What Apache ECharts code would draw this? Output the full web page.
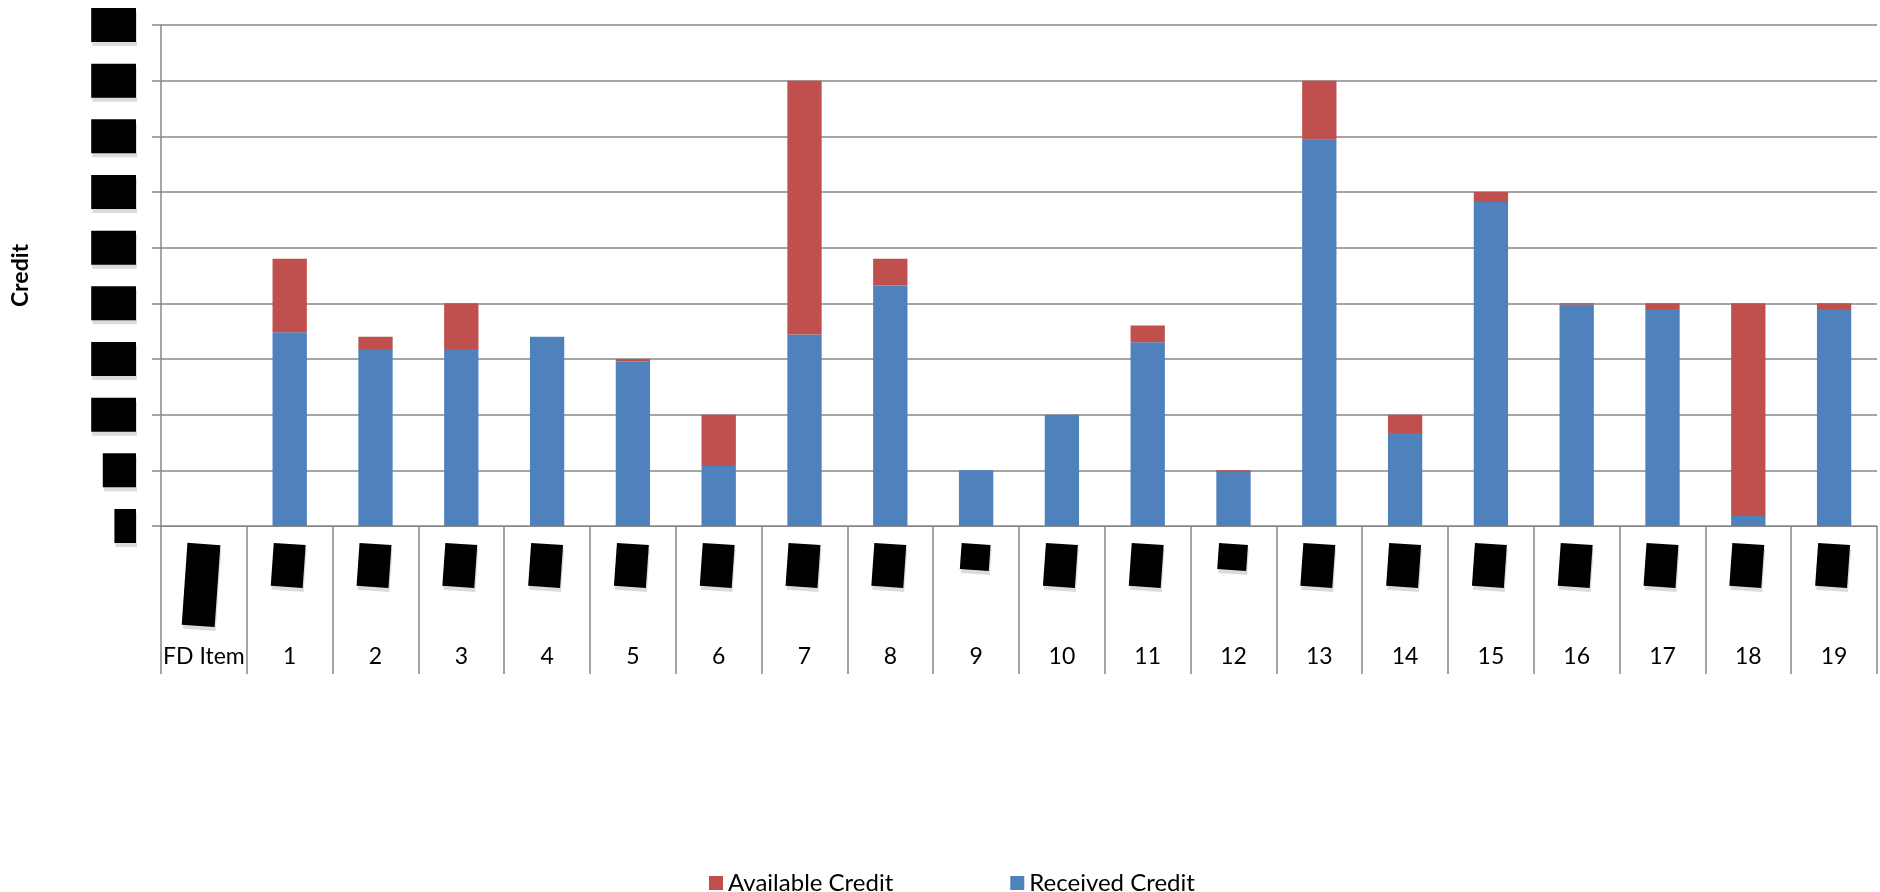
<!DOCTYPE html>
<html>
<head>
<meta charset="utf-8">
<title>Credit by FD Item</title>
<script src="https://cdn.jsdelivr.net/npm/echarts@6/dist/echarts.min.js"></script>
<style>
  html, body { margin: 0; padding: 0; background: #ffffff; }
  #chart { width: 1880px; height: 892px; }
</style>
</head>
<body>
<div id="chart"></div>
<script>
// Categories along the horizontal axis
const categories = ['FD Item', '1', '2', '3', '4', '5', '6', '7', '8', '9', '10',
                    '11', '12', '13', '14', '15', '16', '17', '18', '19'];

// Credit already received per item (lower segment)
const receivedCredit = [null, 174, 159, 159, 170, 148, 54, 172, 216, 50, 100,
                        165, 48.5, 347, 83.5, 291, 199, 195, 9, 194];

// Credit still available per item (upper segment)
const availableCredit = [null, 66, 11, 41, 0, 2, 46, 228, 24, 0, 0,
                         15, 1.5, 53, 16.5, 9, 1, 5, 191, 6];

// Value axis ticks
const yMin = 0;
const yMax = 450;
const yStep = 50;

const FONT = 'Lato, "Open Sans", "Noto Sans", sans-serif';
const GRID_GREY = '#878787';
const RED = '#C0504D';
const BLUE = '#4F81BD';

// Redacted group labels: black blocks in the upper label row
const tallGroup = ['FD Item'];
const shortGroup = ['9', '12'];
const blockShadow = { shadowColor: 'rgba(0,0,0,0.14)', shadowOffsetX: 1, shadowOffsetY: 4 };

const chart = echarts.init(document.getElementById('chart'), null, { renderer: 'canvas' });

chart.setOption({
  backgroundColor: '#ffffff',
  animation: false,
  textStyle: { fontFamily: FONT },
  grid: { left: 161, right: 3, top: 25, bottom: 366, containLabel: false },
  legend: {
    data: ['Available Credit', 'Received Credit'],
    left: 704,
    top: 866,
    icon: 'rect',
    itemWidth: 14,
    itemHeight: 14,
    itemGap: 117,
    textStyle: { fontFamily: FONT, fontSize: 24, color: '#000000' }
  },
  xAxis: [
    {
      type: 'category',
      data: categories,
      boundaryGap: true,
      axisLine: { show: true, lineStyle: { color: GRID_GREY, width: 1 } },
      axisTick: { show: true, interval: 0, length: 148, lineStyle: { color: GRID_GREY, width: 1.5 } },
      splitLine: { show: false },
      axisLabel: {
        interval: 0,
        margin: 18,
        rotate: -4,
        align: 'center',
        verticalAlign: 'top',
        formatter: function (value) {
          if (tallGroup.indexOf(value) >= 0) return '{tall|\u00a0}';
          if (shortGroup.indexOf(value) >= 0) return '{short|\u00a0}';
          return '{std|\u00a0}';
        },
        rich: {
          tall: Object.assign({ width: 33, height: 82, backgroundColor: '#000000', color: '#000000' }, blockShadow),
          std: Object.assign({ width: 32, height: 43, backgroundColor: '#000000', color: '#000000' }, blockShadow),
          short: Object.assign({ width: 29, height: 26, backgroundColor: '#000000', color: '#000000' }, blockShadow)
        }
      }
    },
    {
      type: 'category',
      data: categories,
      position: 'bottom',
      boundaryGap: true,
      axisLine: { show: false },
      axisTick: { show: false },
      splitLine: { show: false },
      axisLabel: {
        interval: 0,
        margin: 131,
        verticalAlign: 'middle',
        fontFamily: FONT,
        fontSize: 23,
        lineHeight: 28,
        color: '#000000'
      }
    }
  ],
  yAxis: {
    type: 'value',
    min: yMin,
    max: yMax,
    interval: yStep,
    name: 'Credit',
    nameLocation: 'middle',
    nameGap: 129,
    nameTextStyle: { fontFamily: FONT, fontSize: 23, fontWeight: 'bold', color: '#000000' },
    axisLine: { show: true, lineStyle: { color: GRID_GREY, width: 1.5 } },
    axisTick: { show: true, inside: false, length: 9, lineStyle: { color: GRID_GREY, width: 1.5 } },
    splitLine: { show: true, lineStyle: { color: GRID_GREY, width: 1.5 } },
    axisLabel: {
      margin: 25,
      fontFamily: FONT,
      fontSize: 20,
      lineHeight: 24,
      color: '#000000',
      backgroundColor: '#000000',
      padding: [5, 5],
      shadowColor: 'rgba(0,0,0,0.14)',
      shadowOffsetX: 1,
      shadowOffsetY: 4
    }
  },
  series: [
    {
      name: 'Received Credit',
      type: 'bar',
      stack: 'credit',
      xAxisIndex: 0,
      barWidth: '40%',
      itemStyle: { color: BLUE },
      data: receivedCredit
    },
    {
      name: 'Available Credit',
      type: 'bar',
      stack: 'credit',
      xAxisIndex: 0,
      barWidth: '40%',
      itemStyle: { color: RED },
      data: availableCredit
    }
  ]
});
</script>
</body>
</html>
